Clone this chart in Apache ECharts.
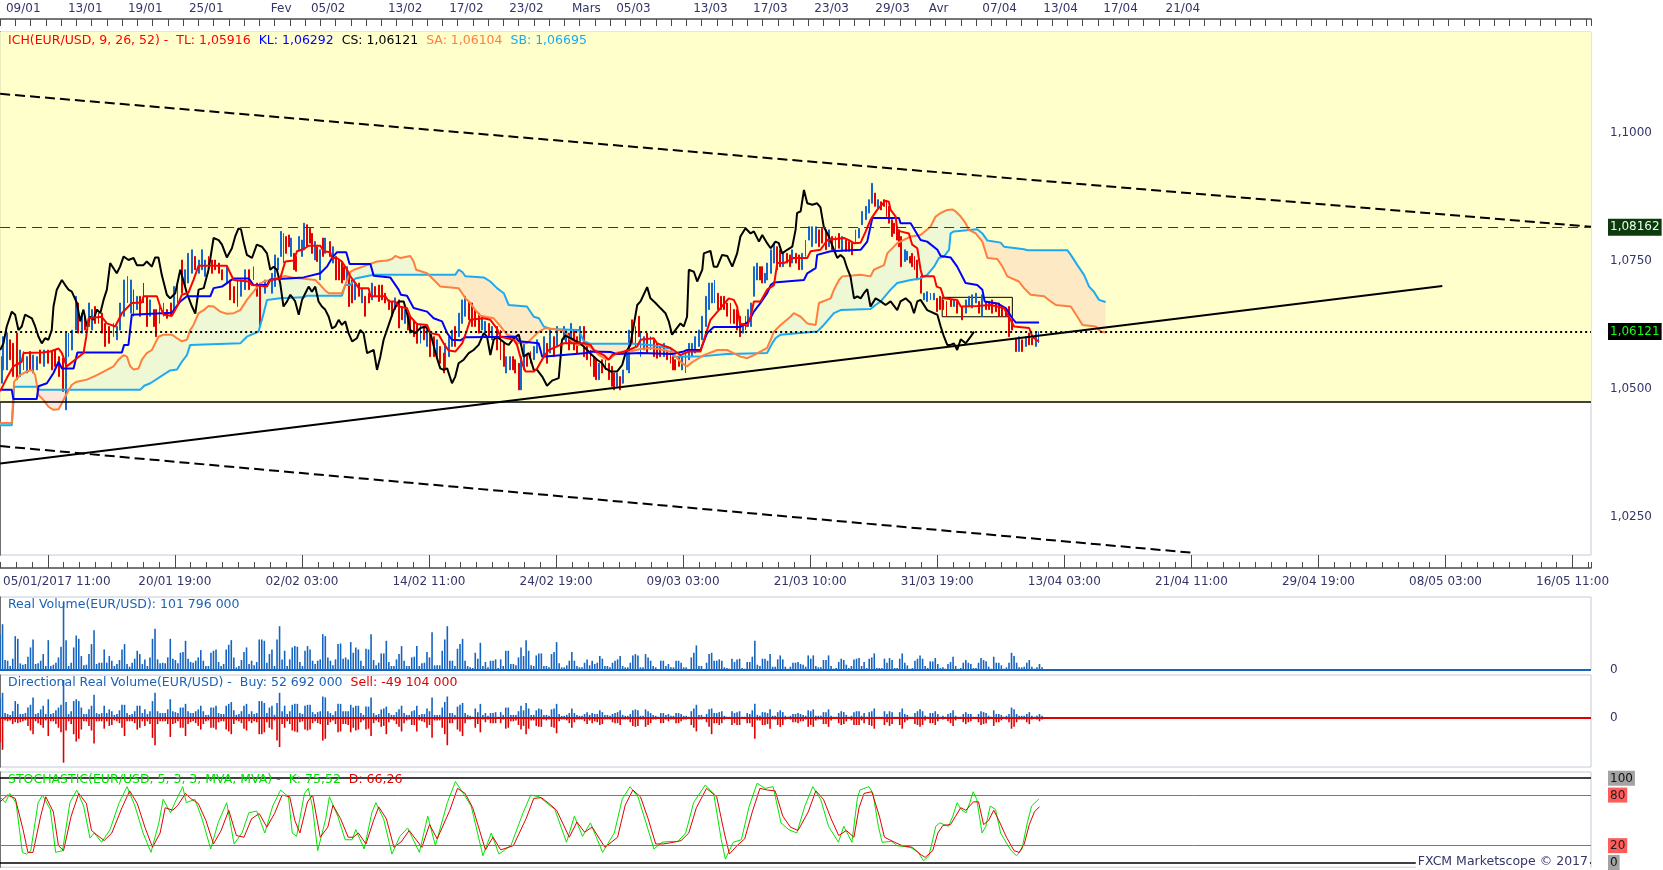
<!DOCTYPE html>
<html>
<head>
<meta charset="UTF-8">
<title>EUR/USD - Ichimoku</title>
<script src="https://cdn.jsdelivr.net/npm/echarts@6/dist/echarts.min.js"></script>
<style>
  html, body { margin: 0; padding: 0; background: #fff; }
  #box { width: 1663px; height: 870px; }
</style>
</head>
<body>
<div id="box"></div>
<script>
// x = 4h bar index counted from 05/01/2017 11:00, y = EUR/USD price

// Ichimoku lines
const tenkan = [[0,1.0495],[2.6,1.0521],[5.2,1.0544],[8.5,1.0553],[9.2,1.0570],[16.4,1.0571],[19.7,1.0573],[23.0,1.0579],[24.3,1.0570],[26.2,1.0544],[29.5,1.0557],[32.8,1.0570],[33.9,1.0602],[34.8,1.0638],[40.0,1.0641],[42.0,1.0628],[45.3,1.0622],[47.9,1.0648],[51.8,1.0668],[55.8,1.0669],[56.4,1.0681],[61.7,1.0681],[63.0,1.0661],[64.3,1.0645],[67.6,1.0643],[69.6,1.0661],[71.5,1.0684],[74.1,1.0688],[76.1,1.0713],[78.1,1.0741],[89.2,1.0741],[90.6,1.0726],[91.9,1.0713],[97.8,1.0710],[99.1,1.0703],[105.0,1.0700],[106.3,1.0713],[110.2,1.0716],[112.2,1.0749],[115.5,1.0751],[116.8,1.0769],[119.4,1.0773],[121.4,1.0780],[126.0,1.0780],[127.3,1.0769],[129.9,1.0767],[130.6,1.0756],[132.5,1.0756],[134.5,1.0749],[136.5,1.0733],[137.8,1.0720],[139.8,1.0707],[141.1,1.0697],[145.0,1.0697],[145.7,1.0681],[151.6,1.0681],[152.9,1.0671],[155.5,1.0671],[156.8,1.0661],[160.1,1.0658],[161.4,1.0641],[164.0,1.0627],[168.0,1.0625],[169.3,1.0609],[172.6,1.0606],[174.5,1.0589],[176.5,1.0575],[179.1,1.0573],[181.8,1.0589],[183.7,1.0615],[185.0,1.0635],[190.3,1.0638],[192.9,1.0635],[195.5,1.0618],[196.9,1.0602],[202.1,1.0596],[203.4,1.0586],[205.4,1.0550],[206.7,1.0534],[210.0,1.0534],[211.3,1.0540],[213.9,1.0563],[215.9,1.0576],[219.2,1.0583],[221.8,1.0589],[229.7,1.0589],[232.3,1.0586],[233.6,1.0576],[237.5,1.0566],[239.5,1.0557],[240.8,1.0566],[247.4,1.0576],[250.7,1.0583],[252.0,1.0596],[257.2,1.0599],[258.5,1.0589],[263.8,1.0580],[267.7,1.0566],[271.0,1.0573],[275.6,1.0573],[277.6,1.0606],[279.5,1.0635],[282.8,1.0654],[286.7,1.0677],[288.7,1.0674],[290.0,1.0661],[291.1,1.0628],[294.0,1.0623],[295.3,1.0641],[296.6,1.0671],[299.2,1.0671],[301.8,1.0694],[304.5,1.0703],[305.8,1.0746],[308.4,1.0746],[312.3,1.0756],[317.6,1.0756],[318.9,1.0769],[322.8,1.0772],[325.5,1.0791],[332.0,1.0795],[334.0,1.0791],[336.0,1.0785],[338.6,1.0786],[340.6,1.0808],[342.5,1.0831],[345.1,1.0850],[348.4,1.0868],[349.7,1.0866],[350.4,1.0850],[352.4,1.0837],[353.0,1.0811],[354.3,1.0808],[357.6,1.0804],[358.9,1.0782],[360.9,1.0775],[362.2,1.0733],[362.9,1.0720],[367.5,1.0720],[368.5,1.0700],[370.1,1.0697],[371.4,1.0677],[376.6,1.0674],[378.0,1.0661],[384.5,1.0662],[389.8,1.0664],[395.0,1.0658],[397.6,1.0635],[399.0,1.0622],[404.9,1.0619],[406.2,1.0602],[408.8,1.0592]];

const kijun = [[0,1.0498],[4.6,1.0498],[5.2,1.0480],[14.4,1.0480],[15.1,1.0505],[18.4,1.0511],[21.0,1.0531],[23.0,1.0553],[24.3,1.0540],[28.9,1.0540],[30.4,1.0571],[47.9,1.0571],[48.8,1.0586],[50.5,1.0586],[51.8,1.0645],[67.6,1.0649],[70.9,1.0671],[73.5,1.0681],[82.7,1.0681],[84.0,1.0697],[87.3,1.0700],[91.9,1.0716],[97.8,1.0716],[99.7,1.0703],[105,1.0703],[106.3,1.0714],[119.4,1.0718],[126.0,1.0726],[128.6,1.0739],[130.6,1.0756],[132.5,1.0767],[136.2,1.0767],[137.5,1.0744],[145.7,1.0744],[147.0,1.0721],[153.5,1.0718],[156.8,1.0694],[157.7,1.0684],[160.1,1.0682],[162.7,1.0658],[168.0,1.0651],[170.6,1.0638],[173.9,1.0632],[175.9,1.0609],[177.8,1.0596],[181.1,1.0595],[183.1,1.0601],[202.8,1.0602],[204.1,1.0593],[211.9,1.0589],[213.3,1.0563],[231.0,1.0570],[232.3,1.0573],[240.2,1.0572],[242.8,1.0568],[252.0,1.0570],[264.4,1.0568],[269.0,1.0573],[270.3,1.0576],[275.6,1.0576],[278.2,1.0609],[280.8,1.0621],[291.3,1.0621],[294.6,1.0632],[296.6,1.0651],[299.2,1.0668],[301.8,1.0687],[303.2,1.0703],[304.5,1.0708],[316.3,1.0713],[317.6,1.0726],[320.9,1.0736],[321.5,1.0762],[326.8,1.0769],[338.6,1.0772],[341.2,1.0788],[343.2,1.0834],[353.7,1.0834],[354.3,1.0824],[358.3,1.0824],[362.2,1.0791],[364.8,1.0788],[368.8,1.0772],[370.1,1.0760],[374.0,1.0757],[376.6,1.0739],[379.9,1.0707],[384.5,1.0703],[386.5,1.0694],[387.4,1.0671],[392.4,1.0667],[395.7,1.0658],[398.3,1.0638],[399.6,1.0630],[408.8,1.0630]];

const chikou = [[0,1.0576],[1.3,1.0589],[2.6,1.0622],[4.6,1.0651],[5.9,1.0645],[7.2,1.0615],[8.5,1.0622],[9.8,1.0645],[12.5,1.0638],[13.8,1.0622],[15.1,1.0602],[16.4,1.0589],[17.7,1.0599],[19.0,1.0596],[20.3,1.0615],[21.0,1.0661],[22.3,1.0694],[24.3,1.0713],[25.6,1.0703],[26.9,1.0694],[28.2,1.0690],[30.2,1.0668],[31.5,1.0632],[32.8,1.0655],[34.1,1.0622],[35.4,1.0641],[36.7,1.0635],[38.1,1.0655],[39.4,1.0648],[40.7,1.0674],[42.0,1.0694],[43.3,1.0746],[44.6,1.0736],[45.9,1.0726],[47.2,1.0739],[48.6,1.0759],[50.5,1.0752],[52.5,1.0756],[53.8,1.0742],[56.4,1.0742],[57.7,1.0749],[59.7,1.0739],[61.0,1.0757],[62.3,1.0757],[63.6,1.0723],[65.6,1.0684],[66.9,1.0677],[68.9,1.0687],[70.9,1.0733],[73.5,1.0687],[75.5,1.0661],[76.8,1.0647],[78.1,1.0694],[80.1,1.0697],[82.0,1.0733],[84.0,1.0795],[86.0,1.0791],[87.3,1.0782],[89.2,1.0757],[91.2,1.0775],[92.5,1.0798],[93.8,1.0814],[94.8,1.0812],[95.8,1.0788],[97.1,1.0762],[99.1,1.0756],[101.0,1.0782],[103.0,1.0778],[105.0,1.0765],[106.3,1.0733],[107.6,1.0739],[108.9,1.0733],[110.2,1.0707],[111.5,1.0661],[112.9,1.0671],[114.2,1.0684],[116.1,1.0671],[117.5,1.0645],[118.8,1.0674],[120.1,1.0687],[121.4,1.0700],[122.7,1.0690],[124.0,1.0700],[125.3,1.0671],[126.6,1.0661],[127.9,1.0655],[129.3,1.0641],[130.6,1.0618],[131.9,1.0622],[133.2,1.0635],[134.5,1.0625],[135.8,1.0632],[137.1,1.0609],[138.5,1.0593],[140.4,1.0599],[141.7,1.0615],[143.0,1.0609],[144.4,1.0570],[147.0,1.0576],[148.3,1.0537],[149.6,1.0563],[150.9,1.0596],[152.9,1.0625],[154.9,1.0654],[156.8,1.0671],[158.8,1.0671],[160.1,1.0648],[161.4,1.0615],[163.4,1.0609],[165.4,1.0619],[167.3,1.0622],[169.3,1.0609],[171.9,1.0560],[173.2,1.0540],[174.5,1.0537],[175.9,1.0540],[177.8,1.0511],[179.1,1.0524],[180.4,1.0550],[182.4,1.0557],[184.4,1.0570],[186.3,1.0576],[188.3,1.0586],[190.3,1.0609],[191.6,1.0602],[192.9,1.0566],[194.2,1.0596],[195.5,1.0602],[198.8,1.0589],[200.1,1.0586],[202.1,1.0599],[204.1,1.0606],[206.0,1.0563],[208.0,1.0570],[210.0,1.0537],[211.3,1.0537],[213.3,1.0524],[215.2,1.0506],[217.2,1.0516],[219.8,1.0521],[220.5,1.0560],[221.1,1.0596],[222.4,1.0604],[225.7,1.0596],[228.3,1.0589],[231.0,1.0576],[232.9,1.0566],[234.9,1.0557],[236.9,1.0550],[238.2,1.0540],[240.2,1.0534],[242.8,1.0534],[244.8,1.0547],[246.1,1.0570],[248.0,1.0586],[250.7,1.0664],[252.0,1.0671],[254.6,1.0699],[255.9,1.0677],[257.9,1.0668],[259.8,1.0658],[261.8,1.0648],[263.1,1.0632],[264.4,1.0606],[265.7,1.0615],[267.7,1.0628],[269.0,1.0622],[270.3,1.0641],[271.0,1.0733],[273.0,1.0729],[274.3,1.0710],[276.3,1.0733],[276.9,1.0765],[279.5,1.0770],[280.8,1.0739],[282.2,1.0739],[284.1,1.0762],[286.1,1.0760],[288.1,1.0739],[290.0,1.0765],[291.3,1.0798],[293.3,1.0814],[295.3,1.0804],[296.6,1.0808],[298.6,1.0788],[299.9,1.0801],[301.8,1.0785],[303.2,1.0775],[305.1,1.0788],[306.4,1.0785],[307.7,1.0765],[309.7,1.0772],[311.7,1.0778],[313.0,1.0811],[313.6,1.0844],[315.0,1.0847],[316.3,1.0889],[317.6,1.0863],[319.6,1.0860],[321.5,1.0863],[322.8,1.0855],[324.1,1.0817],[326.1,1.0798],[328.1,1.0772],[329.4,1.0756],[330.7,1.0762],[332.0,1.0756],[333.3,1.0736],[334.6,1.0720],[336.0,1.0677],[337.3,1.0681],[338.6,1.0677],[339.9,1.0687],[341.2,1.0695],[342.5,1.0661],[344.5,1.0677],[346.5,1.0671],[348.4,1.0664],[350.4,1.0671],[353.0,1.0654],[354.3,1.0671],[356.3,1.0677],[358.3,1.0668],[359.6,1.0648],[360.9,1.0671],[362.2,1.0674],[364.8,1.0654],[368.8,1.0645],[370.1,1.0622],[371.4,1.0602],[372.7,1.0586],[374.0,1.0586],[375.3,1.0589],[376.6,1.0576],[378.0,1.0597],[379.9,1.0589],[381.9,1.0602],[383.2,1.0612]];

const senkouA = [[0,1.0433],[4.6,1.0433],[5.5,1.0514],[7.9,1.0527],[10.5,1.0534],[12.5,1.0537],[13.8,1.0527],[15.1,1.0488],[17.1,1.0478],[19.0,1.0465],[21.0,1.0459],[23.0,1.0460],[24.3,1.0472],[25.6,1.0485],[28.2,1.0508],[30.2,1.0514],[34.1,1.0518],[38.1,1.0527],[42.0,1.0537],[44.6,1.0544],[46.6,1.0557],[48.6,1.0566],[49.9,1.0563],[51.2,1.0544],[52.5,1.0538],[54.5,1.0540],[55.8,1.0557],[57.7,1.0570],[59.7,1.0576],[61.0,1.0589],[62.3,1.0602],[64.3,1.0606],[67.6,1.0606],[69.6,1.0599],[71.5,1.0593],[73.5,1.0596],[74.8,1.0615],[76.1,1.0625],[78.1,1.0648],[80.1,1.0654],[82.0,1.0662],[84.0,1.0661],[86.6,1.0651],[89.2,1.0647],[91.9,1.0648],[94.5,1.0654],[97.1,1.0674],[99.7,1.0690],[101.7,1.0703],[103.7,1.0710],[106.3,1.0713],[112.2,1.0721],[114.8,1.0718],[118.8,1.0716],[124.0,1.0713],[126.0,1.0703],[128.0,1.0692],[129.3,1.0687],[134.5,1.0687],[135.8,1.0703],[137.8,1.0729],[139.8,1.0734],[144.4,1.0742],[148.3,1.0749],[152.2,1.0751],[154.2,1.0754],[155.5,1.0760],[157.5,1.0756],[161.4,1.0760],[162.7,1.0749],[163.7,1.0733],[168.0,1.0726],[171.3,1.0710],[173.2,1.0700],[180.4,1.0697],[181.8,1.0687],[183.1,1.0677],[185.0,1.0668],[187.0,1.0654],[189.0,1.0643],[194.2,1.0638],[196.9,1.0622],[199.5,1.0606],[202.1,1.0602],[203.4,1.0589],[207.3,1.0589],[211.3,1.0609],[214.6,1.0619],[220.5,1.0615],[222.4,1.0612],[224.4,1.0596],[227.0,1.0586],[231.0,1.0586],[232.9,1.0579],[235.6,1.0566],[238.8,1.0557],[240.2,1.0560],[242.8,1.0571],[248.0,1.0573],[252.0,1.0578],[255.9,1.0580],[261.2,1.0576],[264.4,1.0571],[266.4,1.0560],[268.4,1.0550],[270.3,1.0544],[272.3,1.0552],[276.9,1.0566],[282.2,1.0576],[286.1,1.0576],[291.3,1.0563],[294.0,1.0560],[296.6,1.0566],[301.8,1.0580],[303.2,1.0596],[304.5,1.0612],[307.1,1.0625],[311.0,1.0641],[312.3,1.0648],[315.0,1.0641],[317.6,1.0628],[320.9,1.0625],[322.2,1.0668],[326.8,1.0677],[328.1,1.0694],[330.1,1.0713],[331.4,1.0720],[338.6,1.0723],[342.5,1.0720],[343.8,1.0733],[347.8,1.0742],[349.1,1.0765],[353.0,1.0785],[358.3,1.0798],[362.2,1.0801],[366.1,1.0817],[368.1,1.0837],[370.1,1.0844],[372.7,1.0850],[374.7,1.0851],[376.0,1.0847],[378.0,1.0837],[379.9,1.0824],[381.2,1.0811],[383.9,1.0804],[386.5,1.0788],[388.5,1.0756],[392.4,1.0754],[394.4,1.0739],[396.3,1.0720],[400.9,1.0710],[402.9,1.0697],[405.5,1.0684],[410.8,1.0681],[413.4,1.0671],[415.4,1.0664],[421.3,1.0661],[423.9,1.0641],[425.9,1.0625],[431.1,1.0622],[433.1,1.0612],[435.0,1.0610]];

const senkouB = [[0,1.0429],[4.6,1.0429],[5.2,1.0472],[5.5,1.0504],[14.4,1.0504],[15.1,1.0498],[55.1,1.0498],[56.7,1.0506],[59.1,1.0511],[66.9,1.0536],[69.6,1.0538],[71.5,1.0553],[73.5,1.0566],[74.8,1.0586],[94.5,1.0589],[97.1,1.0602],[101.7,1.0612],[103.7,1.0648],[105.0,1.0674],[110.2,1.0677],[119.4,1.0679],[120.7,1.0682],[134.5,1.0682],[135.8,1.0703],[137.8,1.0703],[139.8,1.0716],[147.0,1.0723],[179.1,1.0723],[180.4,1.0733],[181.8,1.0729],[183.1,1.0720],[190.3,1.0718],[192.9,1.0710],[195.5,1.0697],[198.2,1.0687],[200.1,1.0664],[207.3,1.0661],[210.0,1.0641],[212.0,1.0638],[213.9,1.0622],[216.5,1.0617],[227.7,1.0615],[229.7,1.0593],[232.3,1.0588],[249.3,1.0588],[255.9,1.0586],[263.8,1.0579],[265.1,1.0563],[276.9,1.0564],[286.1,1.0568],[301.8,1.0570],[303.8,1.0589],[305.1,1.0599],[307.1,1.0606],[321.5,1.0612],[324.1,1.0625],[328.1,1.0648],[330.7,1.0654],[342.5,1.0656],[344.5,1.0664],[346.5,1.0671],[350.4,1.0694],[353.0,1.0707],[358.3,1.0713],[362.2,1.0716],[364.8,1.0723],[367.5,1.0739],[369.4,1.0756],[371.4,1.0759],[373.4,1.0772],[374.0,1.0804],[375.3,1.0808],[384.5,1.0812],[386.5,1.0804],[388.5,1.0790],[393.7,1.0786],[395.0,1.0778],[402.9,1.0773],[404.2,1.0771],[420.0,1.0771],[421.3,1.0762],[423.9,1.0742],[426.5,1.0723],[428.5,1.0700],[430.4,1.0690],[432.4,1.0674],[435.0,1.0670]];

// cloud pieces: [from bar, to bar, g = SA above SB, p/o = SA below SB]
const cloudRanges = [[0,14.8,'g'],[14.8,27.5,'p'],[27.5,169.5,'g'],[169.5,302.5,'o'],[302.5,386,'g'],[386,435,'o']];

// candles, [bar, low, high]
const upBars = [[0.7,1.0511,1.0563],[1.3,1.0537,1.0602],[2.6,1.0537,1.0609],[7.9,1.0524,1.0576],[9.2,1.0537,1.0573],[10.5,1.0531,1.0563],[13.1,1.0531,1.0566],[14.4,1.0537,1.0563],[17.1,1.0544,1.0576],[25.9,1.0459,1.0609],[26.9,1.0563,1.0609],[28.2,1.0576,1.0615],[29.9,1.0615,1.0681],[32.2,1.0609,1.0648],[34.8,1.0622,1.0668],[36.1,1.0615,1.0655],[44.6,1.0602,1.0628],[45.9,1.0596,1.0622],[47.2,1.0615,1.0668],[48.8,1.0642,1.0713],[50.1,1.0668,1.0720],[51.4,1.0648,1.0713],[53.8,1.0655,1.0681],[59.1,1.0642,1.0674],[62.7,1.0628,1.0661],[64.3,1.0642,1.0668],[68.5,1.0655,1.0700],[69.8,1.0668,1.0707],[72.8,1.0700,1.0733],[74.1,1.0707,1.0765],[75.5,1.0726,1.0772],[78.1,1.0726,1.0752],[79.4,1.0733,1.0772],[80.7,1.0720,1.0752],[89.2,1.0707,1.0739],[94.8,1.0681,1.0713],[96.5,1.0694,1.0733],[99.7,1.0713,1.0739],[104.3,1.0687,1.0713],
  [107.0,1.0687,1.0726],[108.3,1.0700,1.0762],[109.2,1.0733,1.0756],[110.5,1.0759,1.0808],[111.5,1.0746,1.0804],[114.4,1.0759,1.0795],[117.5,1.0772,1.0798],[118.8,1.0759,1.0791],[119.7,1.0772,1.0824],[123.8,1.0752,1.0788],[126.0,1.0713,1.0772],[128.0,1.0765,1.0795],[131.0,1.0746,1.0778],[136.5,1.0713,1.0739],[139.8,1.0674,1.0707],[142.4,1.0668,1.0697],[146.3,1.0674,1.0707],[155.5,1.0655,1.0678],[159.4,1.0628,1.0655],[165.4,1.0589,1.0625],[168.0,1.0583,1.0615],[171.9,1.0563,1.0596],[175.2,1.0537,1.0589],[176.5,1.0563,1.0602],[177.8,1.0583,1.0615],[180.4,1.0602,1.0648],[181.8,1.0628,1.0674],[183.1,1.0642,1.0681],[189.6,1.0615,1.0642],[190.9,1.0609,1.0632],[193.6,1.0596,1.0622],[199.2,1.0531,1.0563],[200.5,1.0537,1.0563],[205.0,1.0498,1.0563],[206.0,1.0537,1.0589],[210.0,1.0557,1.0583],[211.3,1.0570,1.0596],
  [213.9,1.0563,1.0602],[216.5,1.0570,1.0615],[219.2,1.0583,1.0622],[221.8,1.0596,1.0622],[222.8,1.0589,1.0615],[224.7,1.0589,1.0628],[228.3,1.0589,1.0622],[235.6,1.0518,1.0550],[242.8,1.0505,1.0531],[245.1,1.0511,1.0537],[246.5,1.0537,1.0576],[247.4,1.0531,1.0615],[252.0,1.0563,1.0609],[253.3,1.0576,1.0602],[255.9,1.0576,1.0602],[261.2,1.0563,1.0589],[268.4,1.0537,1.0563],[269.7,1.0531,1.0570],[271.0,1.0557,1.0589],[272.3,1.0563,1.0589],[273.6,1.0570,1.0602],[274.9,1.0583,1.0615],[276.2,1.0596,1.0642],[277.6,1.0622,1.0681],[278.9,1.0655,1.0707],[280.2,1.0668,1.0707],[281.1,1.0668,1.0713],[292.4,1.0609,1.0628],[293.3,1.0615,1.0642],[294.2,1.0622,1.0655],[295.5,1.0622,1.0668],[296.6,1.0681,1.0739],[297.9,1.0713,1.0746],[300.8,1.0707,1.0726],[301.8,1.0713,1.0746],[303.2,1.0726,1.0772],[304.5,1.0746,1.0785],[308.1,1.0739,1.0765],[311.7,1.0746,1.0772],[315.6,1.0733,1.0765],[316.9,1.0759,1.0791],[318.2,1.0791,1.0817],
  [319.6,1.0778,1.0817],[320.9,1.0785,1.0817],[326.1,1.0778,1.0811],[328.7,1.0772,1.0798],[331.4,1.0769,1.0798],[336.6,1.0785,1.0811],[337.9,1.0795,1.0814],[339.2,1.0821,1.0847],[340.6,1.0831,1.0857],[341.9,1.0844,1.0870],[343.2,1.0863,1.0902],[345.5,1.0853,1.0870],[355.9,1.0749,1.0772],[357.0,1.0752,1.0769],[363.5,1.0674,1.0687],[364.8,1.0671,1.0690],[366.1,1.0674,1.0687],[367.5,1.0674,1.0687],[375.3,1.0661,1.0674],[379.9,1.0648,1.0674],[381.2,1.0661,1.0681],[382.5,1.0658,1.0684],[383.9,1.0668,1.0687],[386.5,1.0642,1.0684],[400.9,1.0573,1.0602],[403.5,1.0583,1.0602],[407.5,1.0583,1.0609],[408.6,1.0590,1.0612]];

const downBars = [[3.9,1.0557,1.0596],[5.2,1.0524,1.0589],[6.6,1.0518,1.0609],[11.8,1.0537,1.0573],[15.7,1.0550,1.0576],[19.0,1.0550,1.0576],[20.3,1.0537,1.0573],[21.7,1.0544,1.0576],[23.0,1.0524,1.0563],[24.7,1.0495,1.0560],[30.8,1.0609,1.0668],[33.5,1.0615,1.0642],[37.4,1.0628,1.0661],[38.7,1.0628,1.0648],[40.0,1.0609,1.0648],[41.3,1.0583,1.0628],[42.7,1.0589,1.0622],[52.5,1.0642,1.0694],[55.1,1.0642,1.0681],[56.4,1.0668,1.0707],[57.7,1.0622,1.0681],[60.4,1.0622,1.0655],[61.4,1.0602,1.0655],[65.6,1.0638,1.0655],[67.2,1.0642,1.0668],[71.5,1.0687,1.0752],[76.8,1.0733,1.0759],[82.0,1.0726,1.0759],[83.3,1.0726,1.0752],[84.6,1.0733,1.0752],[86.0,1.0726,1.0746],[87.3,1.0713,1.0733],[90.6,1.0674,1.0713],[91.9,1.0668,1.0700],[93.4,1.0661,1.0713],[97.8,1.0694,1.0733],[101.0,1.0681,1.0707],[102.4,1.0622,1.0707],
  [112.6,1.0765,1.0798],[113.5,1.0778,1.0801],[115.5,1.0733,1.0765],[116.5,1.0730,1.0759],[120.7,1.0778,1.0821],[121.8,1.0785,1.0814],[122.7,1.0765,1.0804],[124.7,1.0749,1.0778],[127.0,1.0759,1.0795],[129.7,1.0759,1.0788],[132.0,1.0713,1.0759],[133.2,1.0713,1.0752],[134.5,1.0707,1.0749],[135.4,1.0713,1.0739],[137.4,1.0661,1.0726],[138.5,1.0668,1.0713],[141.1,1.0681,1.0707],[143.7,1.0642,1.0681],[145.0,1.0668,1.0687],[147.6,1.0681,1.0700],[149.0,1.0671,1.0703],[150.3,1.0674,1.0703],[151.6,1.0668,1.0687],[152.9,1.0655,1.0674],[154.2,1.0642,1.0671],[156.8,1.0619,1.0674],[158.1,1.0635,1.0661],[160.4,1.0615,1.0648],[161.4,1.0609,1.0642],[162.7,1.0602,1.0632],[164.0,1.0589,1.0628],[166.7,1.0596,1.0622],[169.3,1.0563,1.0609],[170.6,1.0563,1.0602],[173.2,1.0550,1.0583],[174.5,1.0531,1.0570],[179.1,1.0583,1.0622],[184.4,1.0635,1.0671],[185.7,1.0622,1.0668],[187.0,1.0622,1.0655],[188.3,1.0609,1.0648],[192.3,1.0602,1.0628],[195.5,1.0576,1.0622],[196.9,1.0557,1.0615],[198.2,1.0544,1.0589],[201.8,1.0537,1.0563],[202.7,1.0531,1.0557],[204.1,1.0498,1.0550],[207.3,1.0544,1.0566],[208.7,1.0550,1.0573],
  [215.2,1.0550,1.0589],[217.8,1.0563,1.0602],[220.5,1.0557,1.0589],[223.8,1.0576,1.0609],[225.7,1.0576,1.0615],[227.0,1.0570,1.0602],[229.7,1.0563,1.0622],[231.0,1.0557,1.0589],[232.3,1.0544,1.0576],[233.6,1.0524,1.0563],[234.6,1.0518,1.0557],[236.9,1.0531,1.0557],[238.2,1.0537,1.0563],[239.5,1.0518,1.0550],[240.8,1.0505,1.0544],[241.7,1.0498,1.0531],[243.8,1.0498,1.0524],[248.7,1.0589,1.0635],[250.0,1.0583,1.0622],[251.3,1.0602,1.0642],[254.6,1.0570,1.0609],[257.2,1.0563,1.0596],[258.5,1.0560,1.0589],[259.8,1.0563,1.0583],[262.5,1.0557,1.0576],[263.8,1.0550,1.0570],[264.8,1.0537,1.0563],[265.7,1.0537,1.0557],[267.1,1.0544,1.0563],[282.4,1.0655,1.0687],[283.5,1.0655,1.0681],[284.8,1.0655,1.0681],[286.1,1.0642,1.0668],[287.4,1.0628,1.0668],[288.7,1.0628,1.0655],[290.0,1.0615,1.0655],[291.1,1.0602,1.0642],[298.9,1.0713,1.0739],[299.9,1.0707,1.0739],[305.8,1.0733,1.0778],[306.8,1.0739,1.0772],[309.5,1.0746,1.0765],[310.8,1.0739,1.0762],[313.0,1.0746,1.0765],[314.3,1.0733,1.0762],
  [322.2,1.0778,1.0811],[323.5,1.0785,1.0814],[324.8,1.0772,1.0811],[327.4,1.0772,1.0798],[330.1,1.0775,1.0804],[332.7,1.0769,1.0791],[334.0,1.0769,1.0788],[335.3,1.0762,1.0785],[344.2,1.0857,1.0883],[346.7,1.0850,1.0866],[347.8,1.0857,1.0870],[348.8,1.0837,1.0866],[349.9,1.0824,1.0857],[350.8,1.0798,1.0831],[351.7,1.0804,1.0824],[352.8,1.0791,1.0817],[353.7,1.0778,1.0811],[354.6,1.0739,1.0798],[358.0,1.0746,1.0759],[358.9,1.0739,1.0765],[359.8,1.0733,1.0759],[360.9,1.0713,1.0752],[362.2,1.0687,1.0720],[368.8,1.0651,1.0677],[369.8,1.0655,1.0681],[371.1,1.0655,1.0674],[372.4,1.0642,1.0671],[374.0,1.0661,1.0674],[376.6,1.0648,1.0671],[378.6,1.0635,1.0661],[385.2,1.0648,1.0671],[387.8,1.0655,1.0671],[389.1,1.0655,1.0671],[390.4,1.0648,1.0674],[391.7,1.0651,1.0668],[393.0,1.0642,1.0668],[394.4,1.0642,1.0661],[395.7,1.0642,1.0655],[397.0,1.0602,1.0661],[398.3,1.0615,1.0635],[399.6,1.0573,1.0599],[402.2,1.0573,1.0596],[404.9,1.0586,1.0609],[406.2,1.0586,1.0599]];

// drawn objects
const channelTop = [[0,1.1077],[626,1.0817]];
const channelBottom = [[0,1.0388],[470,1.0179]];
const supportLine = [[0,1.0354],[567.5,1.0701]];
const floorLevel = 1.0474;
const resistLevel = 1.08162;
const closeLevel = 1.06121;
const rangeBox = [[370.7,1.0679],[398.3,1.0641]];

// axis labels
const bottomBars = [18.75,68.75,118.75,168.75,218.75,268.75,318.75,368.75,418.75,468.75,518.75,568.75,618.75];
const bottomLabels = ['05/01/2017 11:00','20/01 19:00','02/02 03:00','14/02 11:00','24/02 19:00','09/03 03:00','21/03 10:00','31/03 19:00','13/04 03:00','21/04 11:00','29/04 19:00','08/05 03:00','16/05 11:00'];
const topBars = [9.1,33.5,57.1,81.1,110.6,129.1,159.4,183.5,207.1,230.7,249.2,279.5,303.1,327.2,351.2,369.3,393.3,417.3,440.9,465.4];
const topLabels = ['09/01','13/01','19/01','25/01','Fev','05/02','13/02','17/02','23/02','Mars','05/03','13/03','17/03','23/03','29/03','Avr','07/04','13/04','17/04','21/04'];
const priceLabels = [1.025, 1.05, 1.075, 1.1];

// volumes in millions, one value per bar
const realVolume = [54,69,15,14,6,17,51,47,10,8,9,20,34,46,9,10,14,24,6,45,6,8,11,19,35,102,45,6,11,34,52,47,21,7,8,24,39,60,9,11,11,31,11,21,14,6,9,15,31,39,9,5,11,17,29,24,9,16,6,19,47,62,16,10,11,10,19,47,17,15,10,26,27,44,17,12,11,14,19,30,14,6,6,26,29,31,12,6,9,31,38,45,19,4,6,15,27,34,9,14,7,12,46,46,44,11,24,31,6,46,66,16,29,6,16,34,36,35,12,6,29,36,31,14,9,14,16,54,51,19,14,7,16,39,40,17,19,16,42,26,34,31,14,
  6,32,31,54,15,7,11,25,25,44,12,6,6,16,24,36,14,6,6,19,20,36,6,10,11,27,19,57,7,7,7,29,46,66,14,14,6,32,39,47,14,6,4,3,26,17,41,6,12,4,14,14,16,3,16,6,29,29,9,9,7,19,34,21,45,29,7,6,22,25,25,6,6,4,24,27,42,10,4,4,7,14,27,14,6,4,4,11,16,7,14,9,11,21,17,6,6,4,11,14,16,21,6,4,4,11,22,24,22,4,4,24,19,14,6,4,1,14,14,6,9,4,4,14,14,11,4,4,1,19,26,37,6,6,1,11,24,26,14,14,
  16,14,4,3,2,17,12,16,17,3,2,12,12,20,44,8,6,17,17,14,24,5,5,16,22,16,5,2,5,11,11,12,9,8,5,22,17,22,6,4,4,15,15,22,6,2,3,12,17,15,8,3,6,16,17,18,6,12,3,17,19,25,3,3,3,17,11,18,15,3,3,17,25,11,7,2,3,14,17,22,17,6,3,13,13,18,9,3,4,2,9,12,20,6,2,3,11,15,11,9,3,3,11,18,15,13,5,2,20,11,11,7,2,4,11,26,21,11,4,4,5,11,15,5,2,4,9,4];

const buyVolume = [21,27,5,4,3,7,18,15,4,4,5,11,14,22,4,5,9,13,4,20,4,5,8,11,14,41,17,4,7,18,20,18,11,4,4,9,13,25,5,4,5,13,5,9,7,3,4,8,14,14,5,3,4,7,13,13,5,9,4,7,18,27,7,5,5,5,9,20,7,6,5,11,11,15,7,5,5,7,9,13,7,3,3,11,11,13,5,4,4,13,15,17,8,3,4,7,13,15,4,7,4,5,18,18,16,5,11,13,3,16,27,7,13,4,7,14,15,15,5,4,13,14,14,6,4,6,7,23,22,7,5,3,7,15,15,7,7,7,14,11,13,13,5,
  3,12,12,22,5,3,4,9,10,12,5,3,3,6,9,13,5,3,3,7,8,13,3,4,4,10,7,22,3,3,3,11,17,23,5,5,3,12,14,16,5,3,2,1,10,6,15,3,5,2,5,5,6,1,6,3,11,11,3,3,3,7,13,8,16,10,3,3,8,10,9,3,3,2,9,10,15,4,2,2,3,5,10,5,3,2,2,4,6,3,5,4,4,8,6,3,3,2,4,5,6,8,3,2,2,4,8,9,8,2,2,9,7,5,3,2,1,5,5,3,4,2,2,5,5,4,2,2,1,7,10,14,3,3,1,4,9,10,5,5,
  6,7,2,1,1,7,5,6,7,1,1,5,4,8,15,3,2,6,6,5,9,2,2,6,8,6,2,1,2,4,4,5,4,3,2,8,7,9,2,2,2,6,6,9,2,1,1,5,7,6,3,1,2,6,7,7,2,5,1,6,7,10,1,1,1,7,4,7,6,1,1,6,10,4,3,1,1,5,7,9,7,2,1,5,5,7,4,1,2,1,4,5,8,2,1,1,4,6,4,4,1,1,4,7,6,5,2,1,8,4,4,3,1,2,4,11,9,4,2,2,2,4,6,2,1,2,4,2];

const sellVolume = [-27,-35,-3,-4,-3,-7,-5,-6,-5,-4,-3,-9,-14,-18,-4,-6,-8,-11,-3,-20,-4,-4,-7,-11,-16,-49,-14,-4,-7,-18,-26,-23,-13,-4,-4,-9,-14,-28,-4,-4,-4,-12,-4,-9,-8,-3,-4,-6,-11,-20,-4,-4,-4,-6,-13,-11,-4,-9,-4,-7,-22,-30,-7,-4,-4,-4,-7,-21,-7,-6,-4,-11,-11,-20,-7,-5,-4,-6,-9,-13,-7,-4,-3,-11,-11,-13,-5,-4,-4,-13,-15,-18,-7,-3,-4,-6,-12,-14,-4,-6,-4,-5,-18,-18,-16,-5,-11,-13,-3,-25,-32,-7,-11,-4,-7,-14,-15,-16,-5,-4,-13,-14,-13,-6,-4,-6,-7,-25,-23,-8,-5,-3,-7,-16,-15,-7,-7,-8,-16,-11,-14,-13,-5,
  -3,-13,-12,-20,-6,-3,-5,-10,-9,-18,-5,-2,-3,-7,-10,-15,-6,-3,-2,-8,-8,-15,-3,-4,-5,-11,-8,-22,-3,-3,-3,-11,-18,-30,-6,-6,-2,-13,-15,-20,-6,-2,-2,-1,-11,-7,-16,-2,-5,-2,-6,-6,-6,-1,-6,-2,-12,-11,-4,-4,-3,-8,-13,-9,-18,-12,-3,-3,-9,-10,-10,-2,-3,-2,-10,-11,-17,-4,-2,-2,-3,-6,-11,-5,-2,-2,-2,-4,-7,-3,-6,-4,-5,-8,-7,-2,-2,-2,-5,-6,-6,-8,-2,-2,-2,-5,-9,-10,-9,-2,-2,-10,-8,-6,-2,-2,-1,-6,-6,-2,-4,-2,-2,-6,-6,-4,-2,-2,-1,-8,-11,-15,-2,-2,-1,-5,-10,-18,-6,-6,
  -8,-6,-2,-1,-1,-8,-6,-8,-8,-1,-1,-6,-6,-10,-23,-3,-3,-8,-8,-7,-12,-2,-2,-8,-10,-8,-2,-1,-2,-5,-5,-6,-4,-4,-2,-10,-8,-10,-3,-2,-2,-7,-7,-10,-3,-1,-1,-6,-8,-7,-4,-1,-3,-8,-8,-8,-3,-6,-1,-8,-9,-12,-1,-1,-1,-8,-5,-9,-7,-1,-1,-8,-12,-5,-3,-1,-1,-7,-8,-10,-8,-3,-1,-6,-6,-8,-4,-1,-2,-1,-4,-6,-9,-3,-1,-1,-5,-7,-5,-4,-1,-1,-5,-8,-7,-6,-2,-1,-9,-5,-5,-3,-1,-2,-5,-12,-10,-5,-2,-2,-2,-5,-7,-2,-1,-2,-4,-2];

// stochastic 5,3,3
const stochK = [[0,78],[2.1,71],[3.8,82],[6.3,71],[8.8,12],[10.4,10],[12.1,14],[15,71],[16.7,80],[19.8,63],[21.9,12],[24.6,14],[27.5,71],[30.2,86],[32.9,67],[35.4,29],[37.1,35],[40,24],[43.3,39],[46.9,71],[50,90],[53.1,67],[56.3,35],[59.4,12],[62.5,47],[64.2,75],[67.1,59],[68.8,71],[71.9,90],[73.3,71],[76.7,75],[79.6,51],[82.9,16],[85.8,47],[89.2,71],[92.1,22],[95.2,35],[97.9,59],[101,61],[104.2,35],[107.3,67],[110.4,86],[113.5,78],[115,35],[116.7,31],[119.8,82],[121.3,88],[122.9,67],[125,14],[128.1,51],[129.6,78],[132.9,55],[135.8,27],[138.5,27],[140,39],[143.3,16],[146.3,59],[147.9,71],[151,51],[154.2,10],[157.3,31],[160.4,41],[165,12],[168.3,55],[171.3,20],[176,71],[179.2,96],[182.3,82],[185.4,67],[190,8],[193.3,35],[196.3,10],[201,20],[205.8,59],[208.8,80],[212.1,78],[215,71],[218.3,63],[222.9,24],[226,55],[229.2,31],[232.3,47],[237.1,12],[241.7,35],[244.8,75],[247.9,90],[251,78],[254.2,47],[257.3,16],[260.4,24],[263.5,25],[266.7,25],[269.8,35],[272.9,71],[277.5,92],[280.8,82],[283.8,27],[285.4,4],[288.5,24],[291.7,27],[294.8,67],[297.9,94],[301,88],[304.2,90],[307.3,47],[310.4,39],[313.5,35],[316.7,67],[319.8,90],[322.9,75],[326,43],[329.9,24],[332,43],[335.2,24],[337.3,75],[338.3,86],[341.9,90],[343.5,82],[345.6,43],[347.1,24],[350.9,25],[353,20],[358.2,18],[361.3,12],[363.4,2],[365.5,8],[367,27],[368.2,43],[369.7,47],[373.2,43],[374.9,55],[376.6,71],[378.1,63],[380.1,59],[381.6,71],[382.9,84],[384.3,75],[386.4,35],[387.9,43],[389.6,67],[391.7,63],[393.7,35],[395.8,24],[397.9,14],[400,8],[402.1,16],[404.2,47],[405.9,67],[408.8,75.5]];

const stochD = [[0,72],[3,80],[6,76],[9,40],[11,12],[13,12],[16,55],[18,78],[21,60],[23,20],[25,14],[28,55],[31,82],[34,70],[36,38],[38,33],[41,26],[44,35],[48,65],[51,85],[54,70],[57,42],[60,18],[63,35],[65,65],[68,62],[70,68],[73,82],[75,76],[78,70],[81,50],[84,22],[87,38],[90,62],[93,32],[96,30],[99,52],[102,58],[105,42],[108,58],[111,80],[114,78],[116,50],[118,35],[121,72],[123,80],[126,30],[129,42],[131,68],[134,52],[137,30],[139,30],[141,35],[144,22],[147,50],[149,66],[152,52],[155,18],[158,25],[161,38],[166,18],[169,45],[172,28],[177,62],[180,88],[183,82],[186,65],[191,15],[194,30],[197,15],[202,20],[207,52],[210,76],[213,77],[216,70],[219,62],[224,30],[227,48],[230,36],[233,42],[238,18],[243,30],[246,68],[249,86],[252,78],[255,52],[258,22],[261,22],[265,24],[268,26],[271,35],[274,65],[278,88],[282,78],[285,35],[287,10],[290,20],[293,28],[296,60],[299,88],[302,86],[305,85],[308,55],[311,42],[314,38],[318,60],[321,85],[324,75],[327,52],[330,32],[333,38],[336,30],[338,65],[340,82],[343,84],[346,55],[348,30],[352,24],[355,20],[359,18],[362,10],[364,6],[367,14],[369,35],[371,44],[374,45],[376,55],[378,65],[380,62],[383,72],[385,72],[387,45],[389,50],[391,62],[393,50],[396,30],[399,14],[401,12],[403,22],[405,45],[407,60],[409,66.3]];

// ---------------------------------------------------------------
const FONT = 'DejaVu Sans';
const AXIS_TXT = '#34346a';
const X_MAX = 626;

function priceFmt(v) { return v.toFixed(4).replace('.', ','); }
function levelFmt(v) { return v.toFixed(5).replace('.', ','); }

// linear value of a polyline at x (only used to close the cloud polygons)
function valueAt(line, x) {
  for (let i = 1; i < line.length; i++) {
    if (line[i][0] >= x) {
      const a = line[i - 1], b = line[i];
      return a[1] + (b[1] - a[1]) * (x - a[0]) / ((b[0] - a[0]) || 1);
    }
  }
  return line[line.length - 1][1];
}

const cloudColors = { g: '#eef8d4', p: '#fde6dc', o: '#fdeac4' };

function hiddenX(grid) {
  return { type: 'value', gridIndex: grid, min: 0, max: X_MAX, show: false };
}

const mychart = echarts.init(document.getElementById('box'));

const option = {
  animation: false,
  textStyle: { fontFamily: FONT },
  grid: [
    { left: 0, top: 32, width: 1591, height: 523, show: true, backgroundColor: '#fff', borderColor: '#c3ccd8', borderWidth: 1 },
    { left: 0, top: 597, width: 1591, height: 73, show: true, backgroundColor: '#fff', borderColor: '#c3ccd8', borderWidth: 1 },
    { left: 0, top: 675, width: 1591, height: 92, show: true, backgroundColor: '#fff', borderColor: '#c3ccd8', borderWidth: 1 },
    { left: 0, top: 772, width: 1591, height: 96, show: true, backgroundColor: '#fff', borderColor: '#c3ccd8', borderWidth: 1 }
  ],
  xAxis: [
    {
      type: 'value', gridIndex: 0, position: 'bottom', offset: 13, min: 0, max: X_MAX, interval: 6.25,
      axisLine: { lineStyle: { color: '#4a4a4a', width: 1.5 } },
      axisTick: { inside: true, length: 6, lineStyle: { color: '#4a4a4a' } },
      splitLine: { show: false },
      axisLabel: {
        customValues: bottomBars, color: AXIS_TXT, fontSize: 12, margin: 8,
        formatter: function (v) {
          const i = bottomBars.indexOf(v);
          if (i < 0) return '';
          return i === 0 ? '{first|' + bottomLabels[i] + '}' : bottomLabels[i];
        },
        rich: { first: { padding: [0, 0, 0, 18], color: AXIS_TXT, fontSize: 12 } }
      }
    },
    {
      type: 'value', gridIndex: 0, position: 'bottom', offset: 13, min: 0, max: X_MAX,
      axisLine: { show: false },
      axisTick: { customValues: bottomBars, inside: true, length: 13, lineStyle: { color: '#4a4a4a' } },
      axisLabel: { show: false }, splitLine: { show: false }
    },
    {
      type: 'value', gridIndex: 0, position: 'top', offset: 13, min: 0, max: X_MAX, interval: 6,
      axisLine: { lineStyle: { color: '#4a4a4a', width: 1.5 } },
      axisTick: { inside: true, length: 7, lineStyle: { color: '#4a4a4a' } },
      splitLine: { show: false },
      axisLabel: {
        customValues: topBars, color: AXIS_TXT, fontSize: 12, margin: 4,
        formatter: function (v) { const i = topBars.indexOf(v); return i < 0 ? '' : topLabels[i]; }
      }
    },
    hiddenX(1), hiddenX(2), hiddenX(3)
  ],
  yAxis: [
    {
      type: 'value', gridIndex: 0, position: 'right', offset: 14, min: 1.0175, max: 1.1198, interval: 0.0025,
      axisLine: { show: true, lineStyle: { color: '#4a4a4a', width: 1.5 } },
      axisTick: { inside: true, length: 7, lineStyle: { color: '#4a4a4a' } },
      splitLine: { show: false },
      axisLabel: { customValues: priceLabels, formatter: priceFmt, color: AXIS_TXT, fontSize: 12, margin: 5 }
    },
    {
      type: 'value', gridIndex: 0, position: 'right', offset: 14, min: 1.0175, max: 1.1198,
      axisLine: { show: false },
      axisTick: { customValues: priceLabels, inside: true, length: 14, lineStyle: { color: '#4a4a4a' } },
      axisLabel: { show: false }, splitLine: { show: false }
    },
    {
      type: 'value', gridIndex: 1, position: 'right', offset: 14, min: 0, max: 110,
      axisLine: { show: true, lineStyle: { color: '#4a4a4a', width: 1.5 } },
      axisTick: { customValues: [0, 12.5, 25, 37.5, 50, 62.5, 75, 87.5, 100], inside: true, length: 6, lineStyle: { color: '#4a4a4a' } },
      axisLabel: { customValues: [0], color: AXIS_TXT, fontSize: 12, margin: 5 },
      splitLine: { show: false }
    },
    {
      type: 'value', gridIndex: 2, position: 'right', offset: 14, min: -53.7, max: 46.4,
      axisLine: { show: true, lineStyle: { color: '#4a4a4a', width: 1.5 } },
      axisTick: { customValues: [-44, -33, -22, -11, 0, 11, 22, 33, 44], inside: true, length: 6, lineStyle: { color: '#4a4a4a' } },
      axisLabel: { customValues: [0], color: AXIS_TXT, fontSize: 12, margin: 5 },
      splitLine: { show: false }
    },
    {
      type: 'value', gridIndex: 3, position: 'right', offset: 14, min: -5.5, max: 107.4,
      axisLine: { show: true, lineStyle: { color: '#4a4a4a', width: 1.5 } },
      axisTick: { customValues: [0, 10, 20, 30, 40, 50, 60, 70, 80, 90, 100], inside: true, length: 6, lineStyle: { color: '#4a4a4a' } },
      axisLabel: {
        customValues: [0, 20, 80, 100], margin: 3,
        formatter: function (v) { return (v === 0 || v === 100) ? '{g|' + v + '}' : '{r|' + v + '}'; },
        rich: {
          g: { backgroundColor: '#a3a3a3', color: '#111', fontSize: 12, padding: [2, 2, 1, 2] },
          r: { backgroundColor: '#ff5c5c', color: '#222', fontSize: 12, padding: [2, 2, 1, 2] }
        }
      },
      splitLine: { show: false }
    }
  ],
  graphic: [
    {
      type: 'text', left: 8, top: 34, z: 100,
      style: {
        text: '{r|ICH(EUR/USD, 9, 26, 52) -  TL: 1,05916}  {b|KL: 1,06292}  {k|CS: 1,06121}  {o|SA: 1,06104}  {c|SB: 1,06695}',
        font: '12.5px ' + FONT,
        rich: {
          r: { fill: '#ff0000', font: '12.5px ' + FONT },
          b: { fill: '#0000ff', font: '12.5px ' + FONT },
          k: { fill: '#000000', font: '12.5px ' + FONT },
          o: { fill: '#ff7f3f', font: '12.5px ' + FONT },
          c: { fill: '#1eaaf1', font: '12.5px ' + FONT }
        }
      }
    },
    { type: 'text', left: 8, top: 598, z: 100, style: { text: 'Real Volume(EUR/USD): 101 796 000', fill: '#1b62b8', font: '12.5px ' + FONT } },
    {
      type: 'text', left: 8, top: 676, z: 100,
      style: {
        text: '{b|Directional Real Volume(EUR/USD) -  Buy: 52 692 000}  {r|Sell: -49 104 000}',
        font: '12.5px ' + FONT,
        rich: { b: { fill: '#1b62b8', font: '12.5px ' + FONT }, r: { fill: '#e00000', font: '12.5px ' + FONT } }
      }
    },
    {
      type: 'text', left: 8, top: 773, z: 100,
      style: {
        text: '{g|STOCHASTIC(EUR/USD, 5, 3, 3, MVA, MVA) -  K: 75,52}  {r|D: 66,26}',
        font: '12.5px ' + FONT,
        rich: { g: { fill: '#00e000', font: '12.5px ' + FONT }, r: { fill: '#e00000', font: '12.5px ' + FONT } }
      }
    },
    { type: 'text', right: 73, top: 855, z: 100, style: { text: 'FXCM Marketscope © 2017', fill: '#34346a', font: '12.5px ' + FONT, backgroundColor: '#fff', padding: [0, 2] } }
  ],
  series: [
    // yellow zone above the floor line
    {
      type: 'line', xAxisIndex: 0, yAxisIndex: 0, data: [], z: 0, silent: true,
      markArea: { silent: true, itemStyle: { color: '#ffffcc' }, data: [[{ xAxis: 0, yAxis: floorLevel }, { xAxis: X_MAX, yAxis: 1.1198 }]] }
    },
    // kumo fill
    {
      type: 'custom', xAxisIndex: 0, yAxisIndex: 0, z: 1, silent: true,
      data: cloudRanges.map(function (r) { return [r[0], r[1]]; }),
      encode: { x: [0, 1] },
      renderItem: function (params, api) {
        const r = cloudRanges[params.dataIndex];
        const a = r[0], b = r[1];
        const inside = function (p) { return p[0] > a && p[0] < b; };
        const upper = [[a, valueAt(senkouA, a)]].concat(senkouA.filter(inside), [[b, valueAt(senkouA, b)]]);
        const lower = [[a, valueAt(senkouB, a)]].concat(senkouB.filter(inside), [[b, valueAt(senkouB, b)]]);
        const pts = upper.concat(lower.reverse()).map(function (p) { return api.coord(p); });
        return { type: 'polygon', shape: { points: pts }, style: { fill: cloudColors[r[2]] } };
      }
    },
    { name: 'SB', type: 'line', xAxisIndex: 0, yAxisIndex: 0, data: senkouB, symbol: 'none', z: 3, lineStyle: { color: '#1eaaf1', width: 2 } },
    { name: 'SA', type: 'line', xAxisIndex: 0, yAxisIndex: 0, data: senkouA, symbol: 'none', z: 3, lineStyle: { color: '#ff7f3f', width: 2 } },
    {
      name: 'candles', type: 'candlestick', xAxisIndex: 0, yAxisIndex: 0, z: 2, barWidth: 1.4,
      dimensions: ['bar', 'open', 'close', 'lowest', 'highest'],
      encode: { x: 0, y: [1, 2, 3, 4] },
      itemStyle: { color: '#1665d0', color0: '#e40000', borderColor: '#1665d0', borderColor0: '#e40000', borderWidth: 1 },
      data: upBars.map(function (c) { return [c[0], c[1], c[2], c[1], c[2]]; })
        .concat(downBars.map(function (c) { return [c[0], c[2], c[1], c[1], c[2]]; }))
    },
    { name: 'CS', type: 'line', xAxisIndex: 0, yAxisIndex: 0, data: chikou, symbol: 'none', z: 4, lineStyle: { color: '#000', width: 2 } },
    { name: 'KL', type: 'line', xAxisIndex: 0, yAxisIndex: 0, data: kijun, symbol: 'none', z: 4, lineStyle: { color: '#0000ff', width: 2 } },
    { name: 'TL', type: 'line', xAxisIndex: 0, yAxisIndex: 0, data: tenkan, symbol: 'none', z: 4, lineStyle: { color: '#ff0000', width: 2 } },
    // trend lines, levels and the range box
    {
      type: 'line', xAxisIndex: 0, yAxisIndex: 0, data: [], z: 5, silent: true,
      markLine: {
        silent: true, symbol: ['none', 'none'], precision: 6,
        label: { show: false },
        data: [
          [{ coord: channelTop[0], lineStyle: { color: '#000', width: 2, type: [10, 5] } }, { coord: channelTop[1] }],
          [{ coord: channelBottom[0], lineStyle: { color: '#000', width: 2, type: [10, 5] } }, { coord: channelBottom[1] }],
          [{ coord: supportLine[0], lineStyle: { color: '#000', width: 2, type: 'solid' } }, { coord: supportLine[1] }],
          { yAxis: floorLevel, lineStyle: { color: '#000', width: 1.5, type: 'solid' } },
          {
            yAxis: resistLevel, lineStyle: { color: '#1d4a1d', width: 1, type: [10, 6] },
            label: { show: true, position: 'end', distance: 17, formatter: levelFmt(resistLevel), backgroundColor: '#0c3a0c', color: '#eaffea', fontSize: 12, padding: [3, 2, 2, 2] }
          },
          {
            yAxis: closeLevel, lineStyle: { color: '#000', width: 2, type: [2, 3] },
            label: { show: true, position: 'end', distance: 17, formatter: levelFmt(closeLevel), backgroundColor: '#000', color: '#19ff19', fontSize: 12, padding: [3, 2, 2, 2] }
          }
        ]
      },
      markArea: {
        silent: true,
        data: [[{ coord: rangeBox[0], itemStyle: { color: 'rgba(255,255,170,0.35)', borderColor: '#000', borderWidth: 1 } }, { coord: rangeBox[1] }]]
      }
    },
    // real volume
    {
      type: 'bar', xAxisIndex: 3, yAxisIndex: 2, barWidth: 1.6,
      itemStyle: { color: '#1565c0' },
      data: realVolume.map(function (v, i) { return [i, v]; }),
      markLine: { silent: true, symbol: ['none', 'none'], label: { show: false }, lineStyle: { color: '#1565c0', width: 2, type: 'solid' }, data: [{ yAxis: 0 }] }
    },
    // directional volume
    {
      type: 'bar', xAxisIndex: 4, yAxisIndex: 3, barWidth: 1.6, barGap: '-100%',
      itemStyle: { color: '#1565c0' },
      data: buyVolume.map(function (v, i) { return [i, v]; })
    },
    {
      type: 'bar', xAxisIndex: 4, yAxisIndex: 3, barWidth: 1.6, barGap: '-100%',
      itemStyle: { color: '#e00000' },
      data: sellVolume.map(function (v, i) { return [i, v]; }),
      markLine: { silent: true, symbol: ['none', 'none'], label: { show: false }, lineStyle: { color: '#e00000', width: 2, type: 'solid' }, data: [{ yAxis: 0 }] }
    },
    // stochastic
    {
      name: 'K', type: 'line', xAxisIndex: 5, yAxisIndex: 4, data: stochK, symbol: 'none', z: 3,
      lineStyle: { color: '#00e600', width: 1 },
      markLine: {
        silent: true, symbol: ['none', 'none'], label: { show: false },
        data: [
          { yAxis: 100, lineStyle: { color: '#000', width: 1.5, type: 'solid' } },
          { yAxis: 0, lineStyle: { color: '#000', width: 1.5, type: 'solid' } },
          { yAxis: 80, lineStyle: { color: '#ff4040', width: 1, type: 'solid' } },
          { yAxis: 20, lineStyle: { color: '#ff4040', width: 1, type: 'solid' } }
        ]
      }
    },
    { name: 'D', type: 'line', xAxisIndex: 5, yAxisIndex: 4, data: stochD, symbol: 'none', z: 4, lineStyle: { color: '#e00000', width: 1 } }
  ]
};

mychart.setOption(option);
</script>
</body>
</html>
